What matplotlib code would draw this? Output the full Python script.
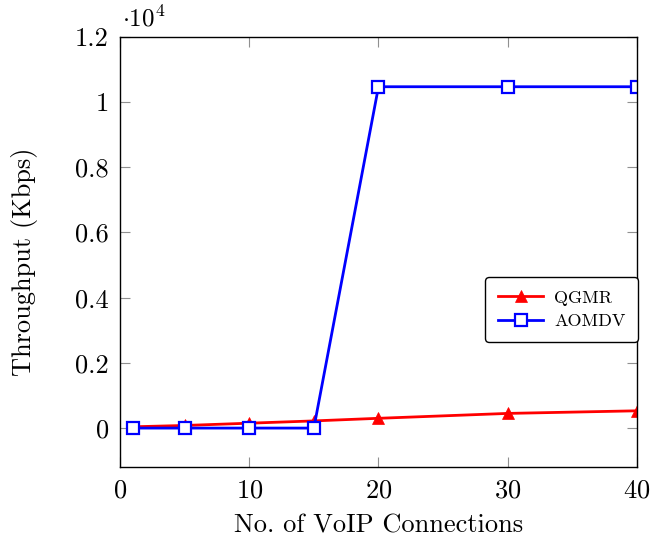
import matplotlib
matplotlib.use("Agg")
import matplotlib.pyplot as plt
from matplotlib.ticker import FuncFormatter

plt.rcParams['font.family'] = ['cmr10', 'DejaVu Serif']
plt.rcParams['mathtext.fontset'] = 'cm'
plt.rcParams['axes.formatter.use_mathtext'] = True

connections = [1, 5, 10, 15, 20, 30, 40]
qgmr = [40, 80, 150, 220, 300, 450, 530]
aomdv = [0, 0, 0, 0, 10470, 10470, 10470]
x_ticks = [0, 10, 20, 30, 40]
y_ticks = [0, 2000, 4000, 6000, 8000, 10000, 12000]

fig = plt.figure(figsize=(6.52, 5.42), dpi=100)
ax = fig.add_axes([0.184, 0.138, 0.793, 0.794])

ax.plot(connections, qgmr, color='red', lw=2, marker='^', ms=9,
        markerfacecolor='red', markeredgecolor='red', markeredgewidth=0.5,
        label='QGMR')
ax.plot(connections, aomdv, color='blue', lw=2, marker='s', ms=8,
        markerfacecolor='white', markeredgecolor='blue', markeredgewidth=1.6,
        label='AOMDV')

ax.set_xlim(0, 40)
ax.set_ylim(-1200, 12000)
ax.set_xticks(x_ticks)
ax.set_yticks(y_ticks)

def fmt(v, pos):
    s = ('%.1f' % (v / 1e4)).rstrip('0').rstrip('.')
    return s
ax.yaxis.set_major_formatter(FuncFormatter(fmt))

ax.tick_params(direction='in', top=True, right=True, length=7, color='#909090',
               labelsize=19)
ax.tick_params(axis='y', pad=8)
ax.tick_params(axis='x', pad=8)
for sp in ax.spines.values():
    sp.set_linewidth(1.0)

ax.text(0.004, 1.012, r'$\cdot 10^4$', transform=ax.transAxes, fontsize=18,
        ha='left', va='bottom')

ax.set_xlabel('No. of VoIP Connections', fontsize=19)
ax.set_ylabel('Throughput (Kbps)', fontsize=19)
ax.xaxis.set_label_coords(0.501, -0.135)
ax.xaxis.label.set_va('center')
ax.yaxis.set_label_coords(-0.184, 0.477)
ax.yaxis.label.set_va('center')

leg = ax.legend(loc='center right', bbox_to_anchor=(1.002, 0.366), fontsize=13,
                fancybox=True, framealpha=1, edgecolor='black', handlelength=2.5,
                borderpad=0.7, labelspacing=0.45, handletextpad=0.6,
                borderaxespad=0.0)
leg.get_frame().set_linewidth(1.0)

fig.savefig('out.png', dpi=100)
